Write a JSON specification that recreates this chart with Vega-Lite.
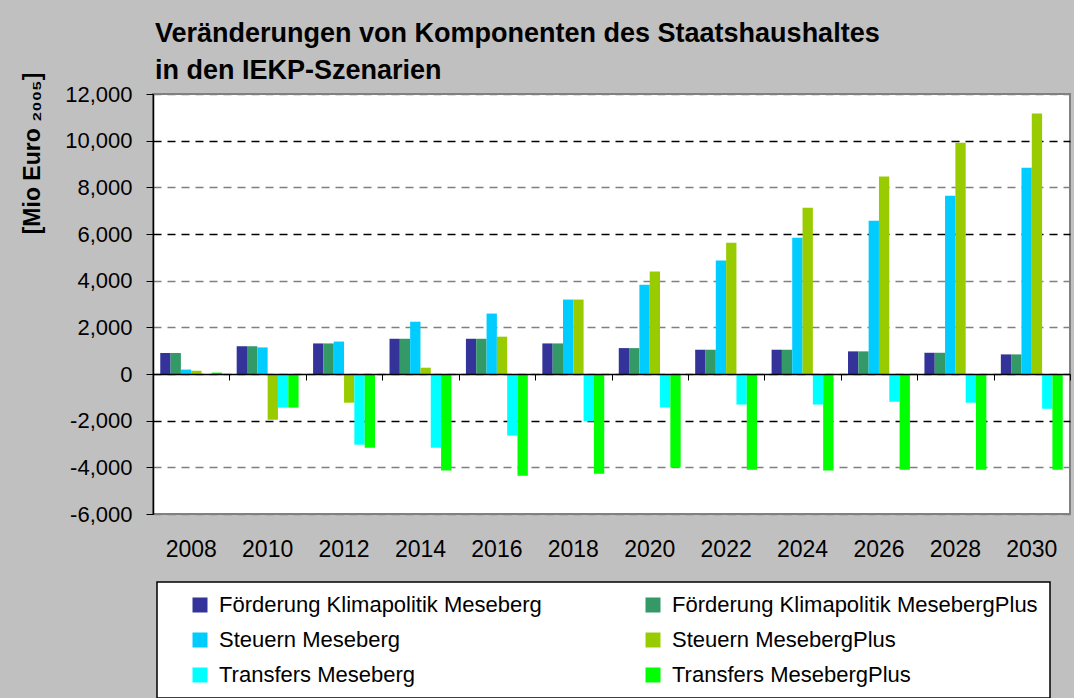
{
  "$schema": "https://vega.github.io/schema/vega-lite/v6.json",
  "width": 917,
  "height": 420,
  "autosize": {"type": "none"},
  "padding": {"left": 153, "top": 94, "right": 4, "bottom": 184},
  "background": "#C0C0C0",
  "title": {
    "text": ["Veränderungen von Komponenten des Staatshaushaltes", "in den IEKP-Szenarien"],
    "anchor": "start",
    "frame": "group",
    "fontSize": 27,
    "font": "Liberation Sans",
    "fontWeight": "bold",
    "color": "black",
    "lineHeight": 37,
    "offset": -1,
    "dx": 2,
    "dy": 12
  },
  "data": {
    "values": [
      {"year": "2008", "series": "Förderung Klimapolitik Meseberg", "value": 900},
      {"year": "2008", "series": "Förderung Klimapolitik MesebergPlus", "value": 900},
      {"year": "2008", "series": "Steuern Meseberg", "value": 190},
      {"year": "2008", "series": "Steuern MesebergPlus", "value": 140},
      {"year": "2008", "series": "Transfers Meseberg", "value": 0},
      {"year": "2008", "series": "Transfers MesebergPlus", "value": 60},
      {"year": "2010", "series": "Förderung Klimapolitik Meseberg", "value": 1190},
      {"year": "2010", "series": "Förderung Klimapolitik MesebergPlus", "value": 1190},
      {"year": "2010", "series": "Steuern Meseberg", "value": 1140},
      {"year": "2010", "series": "Steuern MesebergPlus", "value": -1960},
      {"year": "2010", "series": "Transfers Meseberg", "value": -1440},
      {"year": "2010", "series": "Transfers MesebergPlus", "value": -1440},
      {"year": "2012", "series": "Förderung Klimapolitik Meseberg", "value": 1310},
      {"year": "2012", "series": "Förderung Klimapolitik MesebergPlus", "value": 1310},
      {"year": "2012", "series": "Steuern Meseberg", "value": 1390},
      {"year": "2012", "series": "Steuern MesebergPlus", "value": -1230},
      {"year": "2012", "series": "Transfers Meseberg", "value": -3030},
      {"year": "2012", "series": "Transfers MesebergPlus", "value": -3160},
      {"year": "2014", "series": "Förderung Klimapolitik Meseberg", "value": 1510},
      {"year": "2014", "series": "Förderung Klimapolitik MesebergPlus", "value": 1510},
      {"year": "2014", "series": "Steuern Meseberg", "value": 2240},
      {"year": "2014", "series": "Steuern MesebergPlus", "value": 270},
      {"year": "2014", "series": "Transfers Meseberg", "value": -3160},
      {"year": "2014", "series": "Transfers MesebergPlus", "value": -4140},
      {"year": "2016", "series": "Förderung Klimapolitik Meseberg", "value": 1510},
      {"year": "2016", "series": "Förderung Klimapolitik MesebergPlus", "value": 1510},
      {"year": "2016", "series": "Steuern Meseberg", "value": 2590},
      {"year": "2016", "series": "Steuern MesebergPlus", "value": 1600},
      {"year": "2016", "series": "Transfers Meseberg", "value": -2640},
      {"year": "2016", "series": "Transfers MesebergPlus", "value": -4360},
      {"year": "2018", "series": "Förderung Klimapolitik Meseberg", "value": 1310},
      {"year": "2018", "series": "Förderung Klimapolitik MesebergPlus", "value": 1310},
      {"year": "2018", "series": "Steuern Meseberg", "value": 3190},
      {"year": "2018", "series": "Steuern MesebergPlus", "value": 3190},
      {"year": "2018", "series": "Transfers Meseberg", "value": -2030},
      {"year": "2018", "series": "Transfers MesebergPlus", "value": -4270},
      {"year": "2020", "series": "Förderung Klimapolitik Meseberg", "value": 1110},
      {"year": "2020", "series": "Förderung Klimapolitik MesebergPlus", "value": 1110},
      {"year": "2020", "series": "Steuern Meseberg", "value": 3830},
      {"year": "2020", "series": "Steuern MesebergPlus", "value": 4390},
      {"year": "2020", "series": "Transfers Meseberg", "value": -1440},
      {"year": "2020", "series": "Transfers MesebergPlus", "value": -4010},
      {"year": "2022", "series": "Förderung Klimapolitik Meseberg", "value": 1040},
      {"year": "2022", "series": "Förderung Klimapolitik MesebergPlus", "value": 1040},
      {"year": "2022", "series": "Steuern Meseberg", "value": 4860},
      {"year": "2022", "series": "Steuern MesebergPlus", "value": 5630},
      {"year": "2022", "series": "Transfers Meseberg", "value": -1310},
      {"year": "2022", "series": "Transfers MesebergPlus", "value": -4100},
      {"year": "2024", "series": "Förderung Klimapolitik Meseberg", "value": 1040},
      {"year": "2024", "series": "Förderung Klimapolitik MesebergPlus", "value": 1040},
      {"year": "2024", "series": "Steuern Meseberg", "value": 5840},
      {"year": "2024", "series": "Steuern MesebergPlus", "value": 7130},
      {"year": "2024", "series": "Transfers Meseberg", "value": -1310},
      {"year": "2024", "series": "Transfers MesebergPlus", "value": -4140},
      {"year": "2026", "series": "Förderung Klimapolitik Meseberg", "value": 970},
      {"year": "2026", "series": "Förderung Klimapolitik MesebergPlus", "value": 970},
      {"year": "2026", "series": "Steuern Meseberg", "value": 6570},
      {"year": "2026", "series": "Steuern MesebergPlus", "value": 8460},
      {"year": "2026", "series": "Transfers Meseberg", "value": -1190},
      {"year": "2026", "series": "Transfers MesebergPlus", "value": -4100},
      {"year": "2028", "series": "Förderung Klimapolitik Meseberg", "value": 910},
      {"year": "2028", "series": "Förderung Klimapolitik MesebergPlus", "value": 910},
      {"year": "2028", "series": "Steuern Meseberg", "value": 7640},
      {"year": "2028", "series": "Steuern MesebergPlus", "value": 9910},
      {"year": "2028", "series": "Transfers Meseberg", "value": -1230},
      {"year": "2028", "series": "Transfers MesebergPlus", "value": -4100},
      {"year": "2030", "series": "Förderung Klimapolitik Meseberg", "value": 840},
      {"year": "2030", "series": "Förderung Klimapolitik MesebergPlus", "value": 840},
      {"year": "2030", "series": "Steuern Meseberg", "value": 8840},
      {"year": "2030", "series": "Steuern MesebergPlus", "value": 11160},
      {"year": "2030", "series": "Transfers Meseberg", "value": -1490},
      {"year": "2030", "series": "Transfers MesebergPlus", "value": -4100}
    ]
  },
  "encoding": {
    "y": {
      "field": "value",
      "type": "quantitative",
      "scale": {"domain": [-6000, 12000], "nice": false, "zero": false},
      "axis": {
        "title": "[Mio Euro ₂₀₀₅]",
        "values": [-6000, -4000, -2000, 0, 2000, 4000, 6000, 8000, 10000, 12000],
        "format": ",d",
        "labelExpr": "replace(datum.label, '−', '-')",
        "labelFontSize": 22,
        "labelColor": "black",
        "labelPadding": 14,
        "tickSize": 7,
        "tickColor": "black",
        "domainColor": "black",
        "domainWidth": 1.5,
        "grid": true,
        "gridDash": [8, 6],
        "gridWidth": 1.3,
        "gridColor": {"condition": {"test": "datum.value == 10000 || datum.value == 6000 || datum.value == -2000", "value": "black"}, "value": "#808080"},
        "titleFontSize": 23,
        "titleFontWeight": "bold",
        "titleColor": "black",
        "titleAngle": 270,
        "titleX": -121,
        "titleY": 59,
        "titleAlign": "center",
        "titleBaseline": "middle"
      }
    }
  },
  "layer": [
    {
      "mark": {"type": "bar"},
      "encoding": {
        "x": {
          "field": "year",
          "type": "nominal",
          "scale": {"type": "band", "paddingInner": 0.19, "paddingOuter": 0.095},
          "axis": {"title": null, "orient": "bottom", "domain": false, "ticks": false, "labelFontSize": 23, "labelColor": "black", "labelPadding": 24, "labelAngle": 0, "grid": false}
        },
        "xOffset": {
          "field": "series",
          "type": "nominal",
          "sort": ["Förderung Klimapolitik Meseberg", "Förderung Klimapolitik MesebergPlus", "Steuern Meseberg", "Steuern MesebergPlus", "Transfers Meseberg", "Transfers MesebergPlus"],
          "scale": {"paddingInner": 0, "paddingOuter": 0}
        },
        "color": {
          "field": "series",
          "type": "nominal",
          "scale": {
            "domain": ["Förderung Klimapolitik Meseberg", "Steuern Meseberg", "Transfers Meseberg", "Förderung Klimapolitik MesebergPlus", "Steuern MesebergPlus", "Transfers MesebergPlus"],
            "range": ["#333399", "#00CCFF", "#00FFFF", "#339966", "#99CC00", "#00FF00"]
          },
          "legend": {
            "title": null,
            "orient": "none",
            "legendX": 4,
            "legendY": 488,
            "columns": 2,
            "columnPadding": 80,
            "rowPadding": 13,
            "padding": 12,
            "symbolOffset": 20,
            "fillColor": "white",
            "strokeColor": "black",
            "symbolType": "square",
            "symbolSize": 225,
            "symbolStrokeWidth": 0,
            "labelFontSize": 22,
            "labelOffset": 8,
            "labelLimit": 500,
            "labelColor": "black"
          }
        }
      }
    },
    {
      "mark": {"type": "point", "opacity": 0},
      "encoding": {
        "x": {
          "field": "year",
          "type": "nominal",
          "scale": {"type": "band", "paddingInner": 0, "paddingOuter": 0},
          "axis": {"title": null, "orient": "bottom", "labels": false, "domain": true, "domainColor": "black", "domainWidth": 1.5, "ticks": true, "tickColor": "black", "tickSize": 6, "tickBand": "extent", "offset": -140, "grid": false, "zindex": 1}
        }
      }
    }
  ],
  "resolve": {"scale": {"x": "independent"}},
  "config": {
    "font": "Liberation Sans",
    "view": {"fill": "white", "stroke": "#808080", "strokeWidth": 2},
    "legend": {"strokeWidth": 1.5}
  }
}
